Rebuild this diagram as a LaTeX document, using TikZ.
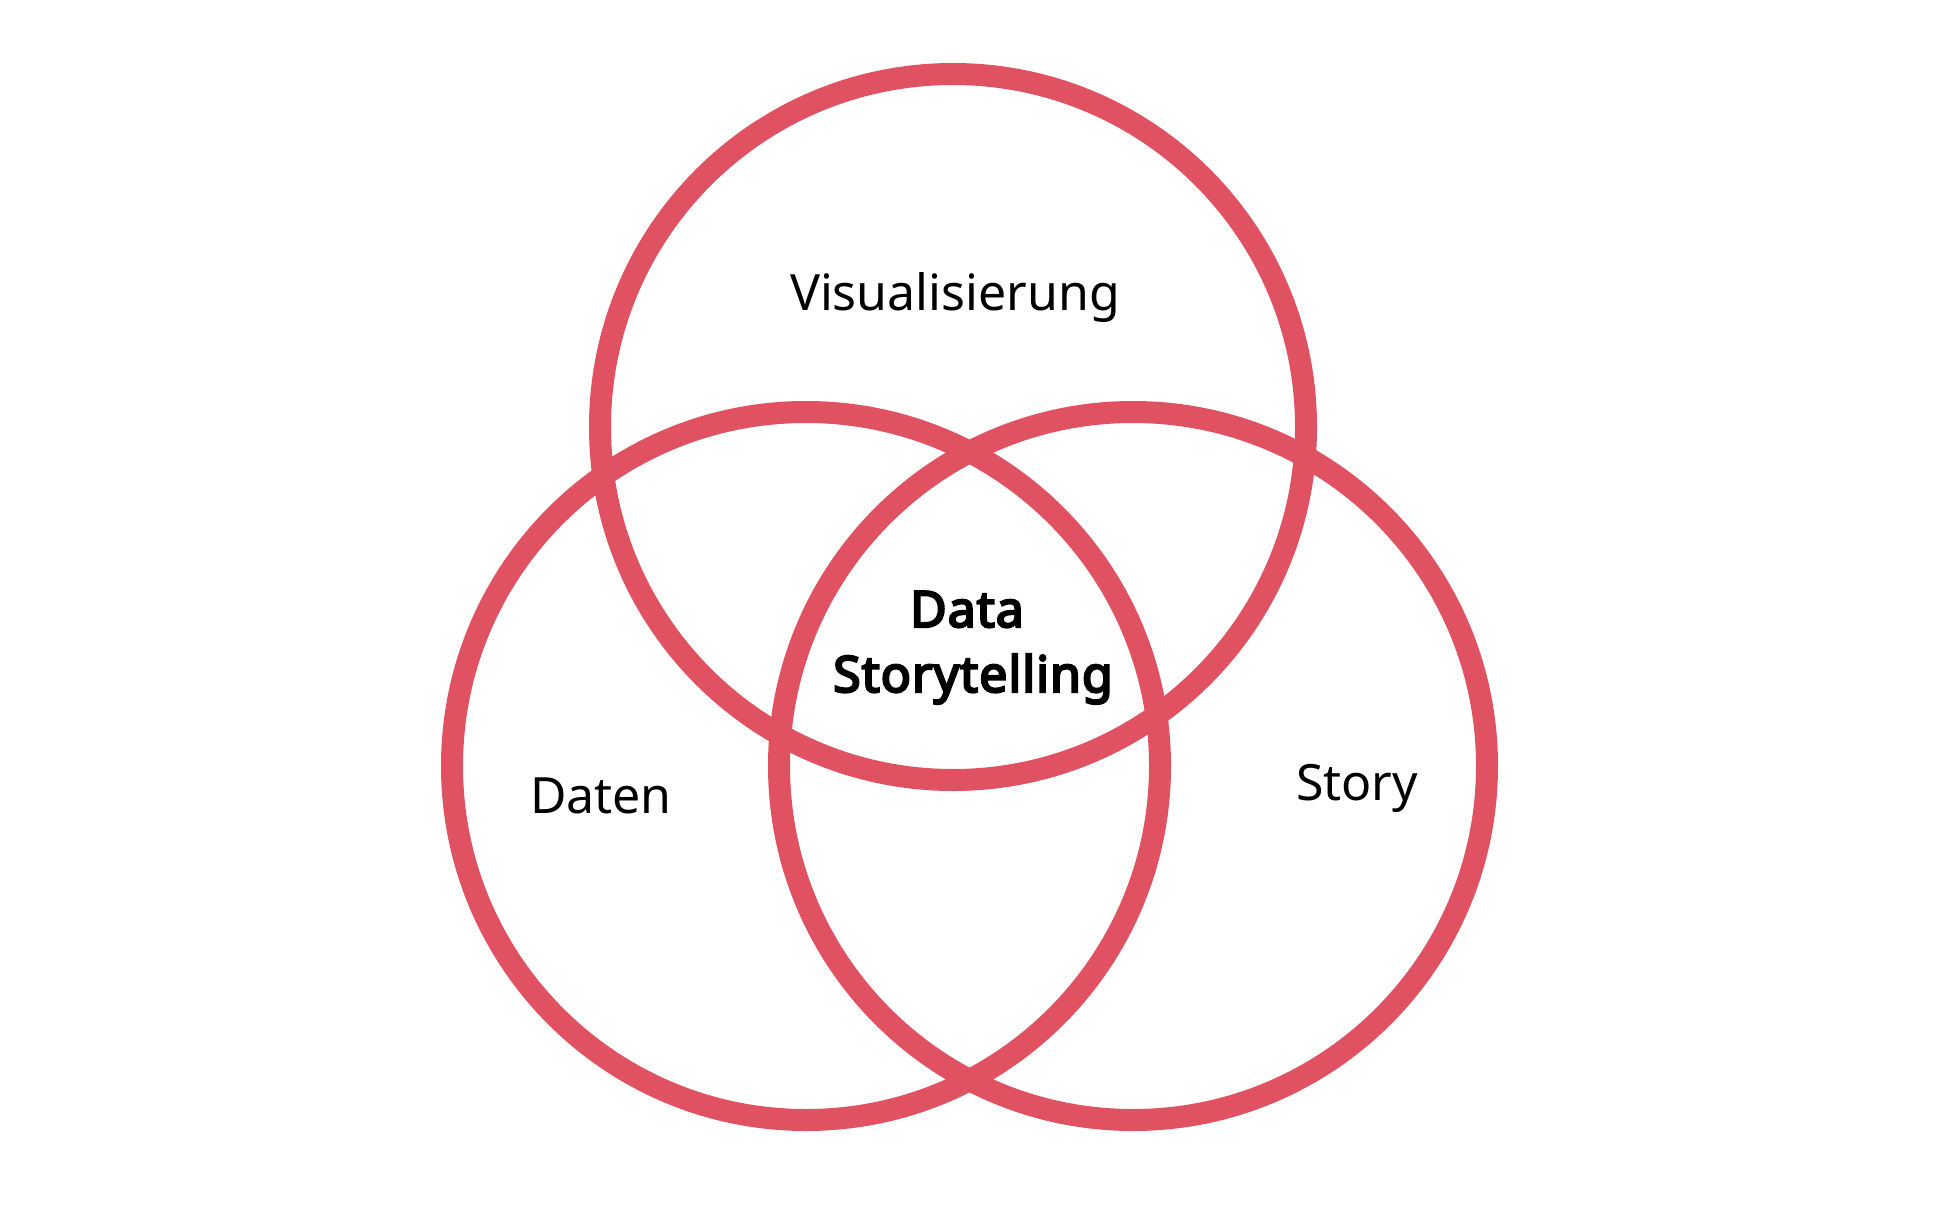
\documentclass[tikz,border=0pt]{standalone}
\usepackage{fontspec}
\setmainfont{Noto Sans}
\newfontfamily\boldfam{Noto Sans}[FakeBold=4.5,LetterSpace=2]
\definecolor{vennred}{RGB}{224,82,98}
\begin{document}
\begin{tikzpicture}[x=1pt,y=-1pt,
  ring/.style={draw=vennred,line width=22pt},
  lbl/.style={font=\fontsize{50}{60}\selectfont, anchor=base, inner sep=0pt},
  blbl/.style={font=\boldfam\fontsize{50}{58}\selectfont, anchor=base, inner sep=0pt}]
\useasboundingbox (0,0) rectangle (1934,1206);
\fill[white] (0,0) rectangle (1934,1206);
\coordinate (cv) at (953,427);
\coordinate (cd) at (806,766);
\coordinate (cs) at (1133,766);
\draw[ring] (cv) circle[radius=353pt];
\draw[ring] (cd) circle[radius=354pt];
\draw[ring] (cs) circle[radius=354pt];
\node[lbl] (vis) at (955,310) {Visualisierung};
\node[lbl] (dat) at (601,813) {Daten};
\node[lbl] (sto) at (1357,800) {Story};
\node[blbl] (ds1) at (967,627) {Data};
\node[blbl] (ds2) at (973,692) {Storytelling};
\end{tikzpicture}
\end{document}
